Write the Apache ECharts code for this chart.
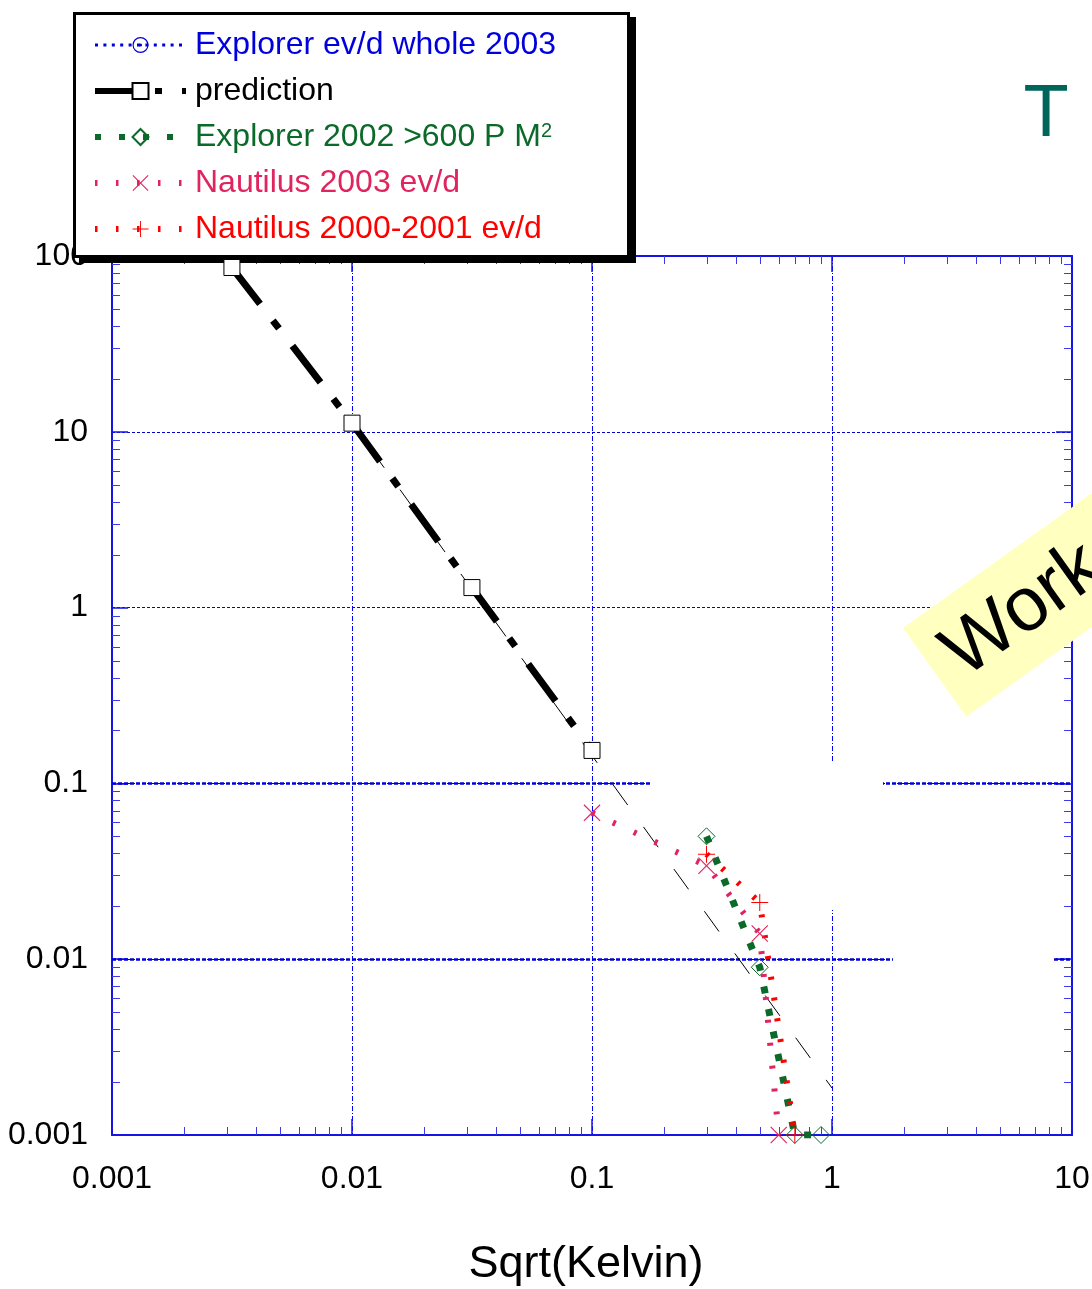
<!DOCTYPE html>
<html>
<head>
<meta charset="utf-8">
<script src="https://cdn.jsdelivr.net/npm/echarts@6/dist/echarts.min.js"></script>
<style>
  html, body { margin: 0; padding: 0; background: #fff; }
  #chart { width: 1092px; height: 1289px; }
</style>
</head>
<body>
<div id="chart"></div>
<script>
const FONT = "'Liberation Sans', Arial, sans-serif";

// Tick labels (one per decade)
const xTickLabels = ['0.001', '0.01', '0.1', '1', '10'];
const yTickLabels = ['0.001', '0.01', '0.1', '1', '10', '100'];
const xDecades = [0.001, 0.01, 0.1, 1];
const yDecades = [0.001, 0.01, 0.1, 1, 10];
const minorSteps = [2, 3, 4, 5, 6, 7, 8, 9];

// Series data: [sqrt(T), rate]
const explorerWhole2003 = [];
const prediction = [[0.00316, 86], [0.01, 11.2], [0.0316, 1.3], [0.1, 0.154]];
const predictionTrend = [[0.01, 11.2], [1, 0.00185]];
const explorer2002 = [[0.3, 0.05], [0.5, 0.009], [0.7, 0.001], [0.9, 0.001]];
const nautilus2003 = [[0.1, 0.068], [0.3, 0.034], [0.5, 0.014], [0.6, 0.001]];
const nautilus2000 = [[0.3, 0.0396], [0.5, 0.021], [0.7, 0.001]];
const heavyGridY = [0.1, 0.01];

const BLUE = '#0000dd';
const GREEN = '#0b6a2a';
const PINK = '#e0245f';
const RED = '#ff0000';
const AXIS_BLUE = '#1414e6';

const SYM_X = 'path://M0,0.8L0.8,0L8.5,7.7L16.2,0L17,0.8L9.3,8.5L17,16.2L16.2,17L8.5,9.3L0.8,17L0,16.2L7.7,8.5Z';
const SYM_PLUS = 'path://M8,0H9V8H17V9H9V17H8V9H0V8H8Z';
const SYM_RING_DOT = 'path://M8.5,0A8.5,8.5 0 1 1 8.5,17A8.5,8.5 0 1 1 8.5,0ZM8.5,1.2A7.3,7.3 0 1 0 8.5,15.8A7.3,7.3 0 1 0 8.5,1.2ZM8.5,6.8A1.7,1.7 0 1 1 8.5,10.2A1.7,1.7 0 1 1 8.5,6.8Z';

// minor tick positions (2..9 within each decade)
const minorTickData = [];
xDecades.forEach(d => minorSteps.forEach(s => minorTickData.push([d * s, 1, 0])));
yDecades.forEach(d => minorSteps.forEach(s => minorTickData.push([1, d * s, 1])));

const decadeLabel = (labels, base) => v => {
  const i = Math.round(Math.log10(v)) - base;
  return labels[i] !== undefined ? labels[i] : '';
};

const logAxisCommon = {
  type: 'log',
  logBase: 10,
  axisLine: { show: true, lineStyle: { color: AXIS_BLUE, width: 2 } },
  axisTick: { show: true, inside: true, length: 16, lineStyle: { color: AXIS_BLUE, width: 1.5 } },
  minorTick: { show: false }
};

const chart = echarts.init(document.getElementById('chart'), null, { renderer: 'canvas' });

chart.setOption({
  animation: false,
  backgroundColor: '#fff',
  grid: { left: 112, top: 256, right: 20, bottom: 154, outerBoundsMode: 'none', containLabel: false },
  xAxis: [
    Object.assign({}, logAxisCommon, {
      position: 'bottom', min: 0.001, max: 10,
      axisLabel: {
        show: true, margin: 28, color: '#000', fontFamily: FONT, fontSize: 32,
        showMinLabel: true, showMaxLabel: true,
        formatter: decadeLabel(xTickLabels, -3)
      },
      splitLine: { show: true, lineStyle: { color: '#0000ff', width: 1, type: [5, 2, 1, 2] } },
      name: 'Sqrt(Kelvin)', nameLocation: 'middle', nameGap: 107,
      nameTextStyle: { color: '#000', fontFamily: FONT, fontSize: 45, padding: [0, 12, 0, 0] }
    }),
    Object.assign({}, logAxisCommon, {
      position: 'top', min: 0.001, max: 10,
      axisLabel: { show: false }, splitLine: { show: false }
    })
  ],
  yAxis: [
    Object.assign({}, logAxisCommon, {
      position: 'left', min: 0.001, max: 100,
      axisLabel: {
        show: true, margin: 24, color: '#000', fontFamily: FONT, fontSize: 32,
        padding: [10, 0, 0, 0],
        showMinLabel: true, showMaxLabel: true,
        formatter: decadeLabel(yTickLabels, -3)
      },
      splitLine: { show: true, lineStyle: { color: '#0000cc', width: 1, type: [3, 2] } }
    }),
    Object.assign({}, logAxisCommon, {
      position: 'right', min: 0.001, max: 100,
      axisLabel: { show: false }, splitLine: { show: false }
    })
  ],
  legend: {
    orient: 'vertical',
    left: 92, top: 29, padding: 0,
    itemGap: 14, itemWidth: 91, itemHeight: 20,
    selectedMode: false,
    textStyle: {
      fontFamily: FONT, fontSize: 32, lineHeight: 32, padding: [0, 0, 0, 4],
      rich: { sup: { fontFamily: FONT, fontSize: 20, color: GREEN, verticalAlign: 'top' } }
    },
    formatter: name => name.replace(/M2$/, 'M{sup|2}'),
    data: [
      { name: 'Explorer ev/d whole 2003', textStyle: { color: BLUE },
        lineStyle: { color: BLUE, width: 3, type: [3, 5.4] } },
      { name: 'prediction', textStyle: { color: '#000' },
        lineStyle: { color: '#000', width: 6, type: [40, 20, 7, 20] } },
      { name: 'Explorer 2002 >600 P M2', textStyle: { color: GREEN },
        lineStyle: { color: GREEN, width: 6, type: [6, 18] } },
      { name: 'Nautilus 2003 ev/d', textStyle: { color: PINK },
        lineStyle: { color: PINK, width: 6, type: [2.5, 18.5] } },
      { name: 'Nautilus 2000-2001 ev/d', textStyle: { color: RED },
        lineStyle: { color: RED, width: 6, type: [2.5, 18.5] } }
    ]
  },
  series: [
    {
      // heavier reference lines at 0.1 and 0.01
      name: 'reference', type: 'line', data: [], z: 1, silent: true,
      markLine: {
        z: 1, silent: true, symbol: 'none', label: { show: false },
        lineStyle: { color: '#0000dd', width: 2.5, type: [4, 2] },
        data: heavyGridY.map(v => ({ yAxis: v }))
      }
    },
    {
      // minor log ticks on all four sides
      name: 'minor ticks', type: 'custom', silent: true, z: 2,
      data: minorTickData,
      encode: { x: 0, y: 1 },
      renderItem: (params, api) => {
        const cs = params.coordSys;
        const kind = api.value(2);
        const st = { stroke: '#3a3ae8', lineWidth: 1 };
        if (kind === 0) {
          const x = Math.round(api.coord([api.value(0), 1])[0]) + 0.5;
          const b = cs.y + cs.height, t = cs.y;
          return { type: 'group', children: [
            { type: 'line', shape: { x1: x, y1: b, x2: x, y2: b - 8 }, style: st },
            { type: 'line', shape: { x1: x, y1: t, x2: x, y2: t + 8 }, style: st }
          ] };
        }
        const y = Math.round(api.coord([1, api.value(1)])[1]) + 0.5;
        const l = cs.x, r = cs.x + cs.width;
        return { type: 'group', children: [
          { type: 'line', shape: { x1: l, y1: y, x2: l + 8, y2: y }, style: st },
          { type: 'line', shape: { x1: r, y1: y, x2: r - 8, y2: y }, style: st }
        ] };
      }
    },
    {
      name: 'Explorer ev/d whole 2003', type: 'line', data: explorerWhole2003,
      symbol: SYM_RING_DOT, symbolSize: 16,
      itemStyle: { color: BLUE },
      lineStyle: { color: BLUE, width: 3, type: [3, 5.4] }
    },
    {
      name: 'prediction', type: 'line', data: prediction,
      symbol: 'rect', symbolSize: 16,
      itemStyle: { color: '#fff', borderColor: '#000', borderWidth: 1 },
      lineStyle: { color: '#000', width: 7, type: [46, 21, 10, 22] }
    },
    {
      name: 'trend', type: 'line', data: predictionTrend, symbol: 'none',
      lineStyle: { color: '#000', width: 1, type: [25, 27], dashOffset: 22 }
    },
    {
      name: 'Explorer 2002 >600 P M2', type: 'line', data: explorer2002,
      symbol: 'diamond', symbolSize: 17,
      itemStyle: { color: 'rgba(255,255,255,0)', borderColor: GREEN, borderWidth: 1 },
      lineStyle: { color: GREEN, width: 7, type: [7, 16] }
    },
    {
      name: 'Nautilus 2003 ev/d', type: 'line', data: nautilus2003,
      symbol: SYM_X, symbolSize: 17,
      itemStyle: { color: PINK },
      lineStyle: { color: PINK, width: 6, type: [3, 20] }
    },
    {
      name: 'Nautilus 2000-2001 ev/d', type: 'line', data: nautilus2000,
      symbol: SYM_PLUS, symbolSize: 17,
      itemStyle: { color: RED },
      lineStyle: { color: RED, width: 6, type: [3, 18] }
    }
  ],
  graphic: [
    // blank patches across the grid
    { type: 'rect', z: 1.5, silent: true, shape: { x: 651, y: 763, width: 232, height: 147 }, style: { fill: '#fff' } },
    { type: 'rect', z: 1.5, silent: true, shape: { x: 893, y: 944, width: 161, height: 30 }, style: { fill: '#fff' } },
    // legend frame with drop shadow
    { type: 'rect', z: 3, silent: true, shape: { x: 79, y: 17, width: 557, height: 246 }, style: { fill: '#000' } },
    { type: 'rect', z: 3.1, silent: true, shape: { x: 74.5, y: 13.5, width: 554, height: 243 }, style: { fill: '#fff', stroke: '#000', lineWidth: 3 } },
    // heading letter at top right
    { type: 'text', z: 5, x: 1046, y: 116, style: { text: 'T', font: "74px 'Liberation Sans'", fill: '#00665c', align: 'center', verticalAlign: 'middle' } },
    // tilted stamp
    { type: 'group', x: 903, y: 628, rotation: 0.62, z: 10, children: [
      { type: 'rect', z: 10, shape: { x: 0, y: 0, width: 420, height: 109 }, style: { fill: '#ffffc0' } },
      { type: 'text', z: 11, x: 20, y: 56, style: { text: 'Work', font: "76px 'Liberation Sans'", fill: '#000', verticalAlign: 'middle' } }
    ] }
  ]
});
</script>
</body>
</html>
